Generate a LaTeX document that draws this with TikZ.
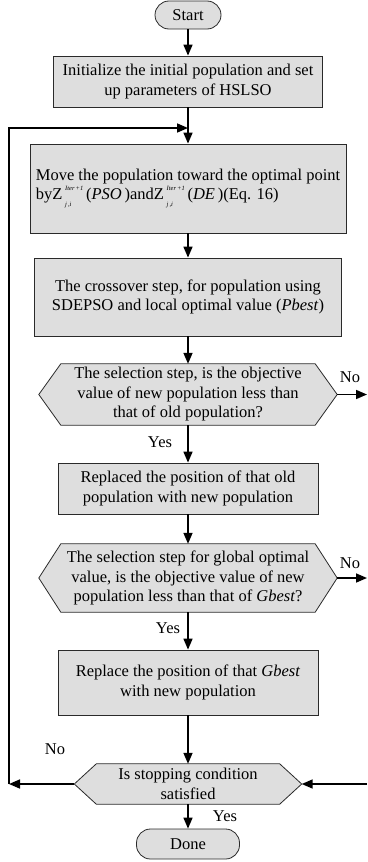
\documentclass[tikz,border=0pt]{standalone}
\usepackage{fontspec}
\setmainfont{Liberation Serif}
\usetikzlibrary{arrows.meta,backgrounds}
\definecolor{boxgray}{HTML}{DEDEDE}
\definecolor{edgegray}{HTML}{2A2A2A}
\newcommand\supsub[2]{\begingroup\setbox0\hbox{\fontsize{6.5}{7}\selectfont\itshape #1}\setbox2\hbox{\fontsize{6.5}{7}\selectfont\itshape #2}\dimen0=\ifdim\wd0>\wd2 \wd0\else\wd2\fi\hbox to\dimen0{\rlap{\raise0.6em\box0}\lower0.4em\box2\hss}\endgroup}
\begin{document}
\begin{tikzpicture}[x=1pt,y=-1pt,
  font=\fontsize{16.5}{19.5}\selectfont,
  box/.style={draw=edgegray, line width=0.8pt, fill=boxgray, inner sep=0pt, align=center},
  term/.style={box, rounded corners=14pt},
  hexn/.style={inner sep=0pt, align=center},
  hexd/.style={draw=edgegray, line width=0.8pt, fill=boxgray},
  arr/.style={line width=1.6pt, -{Triangle[length=11pt,width=9pt]}},
  line/.style={line width=1.6pt},
  lab/.style={inner sep=0pt}]
\useasboundingbox (0,0) rectangle (367,862);

\node[term, minimum width=66pt, minimum height=28pt] (start) at (188,15) {Start};
\node[box, minimum width=269pt, minimum height=51pt] (init) at (188,81.5) {Initialize the initial population and set\\up parameters of HSLSO};
\node[box, align=left, minimum width=316pt, minimum height=89pt] (move) at (188,188.5) {Move the population toward the optimal point\\byZ\,\supsub{Iter\,+1}{j\,,i}\,(\textit{PSO}\,)andZ\,\supsub{Iter\,+1}{j\,,i}\,(\textit{DE}\,)(Eq. 16)};
\node[box, minimum width=307pt, minimum height=78pt] (cross) at (188,297) {The crossover step, for population using\\SDEPSO and local optimal value (\textit{Pbest})};
\node[hexn, minimum width=298pt, minimum height=61pt] (d1) at (188,394.5) {The selection step, is the objective\\value of new population less than\\that of old population?};
\node[box, minimum width=260pt, minimum height=51pt] (rep1) at (188,488.5) {Replaced the position of that old\\population with new population};
\node[hexn, minimum width=298pt, minimum height=68pt] (d2) at (188,578) {The selection step for global optimal\\value, is the objective value of new\\population less than that of \textit{Gbest}?};
\node[box, minimum width=260pt, minimum height=65pt] (rep2) at (188,682.5) {Replace the position of that \textit{Gbest}\\with new population};
\node[hexn, minimum width=227pt, minimum height=40pt] (d3) at (188,784) {Is stopping condition\\satisfied};
\node[term, minimum width=103pt, minimum height=30pt] (done) at (188,844) {Done};

\begin{scope}[on background layer]
\foreach \n in {d1,d2,d3}
  \draw[hexd] (\n.west) -- ([xshift=22pt]\n.north west) -- ([xshift=-22pt]\n.north east) -- (\n.east) -- ([xshift=-22pt]\n.south east) -- ([xshift=22pt]\n.south west) -- cycle;
\end{scope}

\coordinate (r1) at (367,394.5);
\coordinate (r2) at (367,578);
\coordinate (r3) at (367,784);
\coordinate (l1) at (9,784);
\coordinate (l2) at (9,128);
\coordinate (l3) at (188,128);

\draw[arr] (start) -- (init);
\draw[arr] (init) -- (move);
\draw[arr] (move) -- (cross);
\draw[arr] (cross) -- (d1.north);
\draw[arr] (d1.east) -- (r1);
\draw[arr] (d1.south) -- (rep1);
\draw[arr] (rep1) -- (d2.north);
\draw[arr] (d2.east) -- (r2);
\draw[arr] (d2.south) -- (rep2);
\draw[arr] (rep2) -- (d3.north);
\draw[arr] (d3.south) -- (done);
\draw[arr] (r3) -- (d3.east);
\draw[arr] (d3.west) -- (l1);
\draw[arr] (l1) -- (l2) -- (l3);

\node[lab] (no1) at (350,377) {No};
\node[lab] (no2) at (350,563) {No};
\node[lab] (no3) at (55,749) {No};
\node[lab] (yes1) at (160,442) {Yes};
\node[lab] (yes2) at (168,628) {Yes};
\node[lab] (yes3) at (225,816) {Yes};
\end{tikzpicture}
\end{document}
